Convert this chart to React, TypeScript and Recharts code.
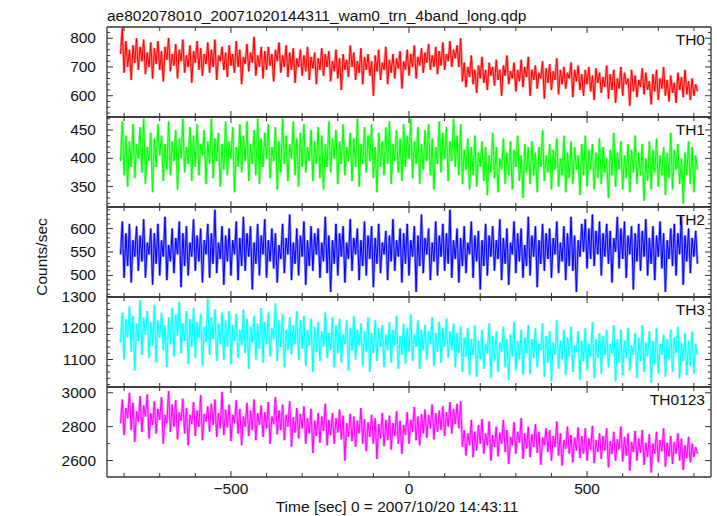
import React from "react";
import { LineChart, Line, XAxis, YAxis } from "recharts";

// ---- data (counts/sec, 5 s bins from -810 s to +810 s) ----
const time: number[] = Array.from({ length: 325 }, (_, i) => -810 + 5 * i);

const th0: number[] = [
  745, 835, 680, 790, 700, 760, 655, 775, 715, 800,
  690, 770, 720, 795, 675, 750, 700, 785, 660, 765,
  710, 790, 690, 755, 650, 770, 725, 800, 685, 745,
  705, 780, 660, 760, 720, 795, 680, 740, 700, 775,
  645, 755, 715, 790, 690, 765, 670, 745, 710, 785,
  680, 760, 700, 795, 655, 740, 720, 770, 690, 750,
  665, 775, 705, 745, 680, 790, 700, 760, 640, 735,
  710, 780, 685, 750, 715, 805, 670, 740, 700, 770,
  660, 755, 690, 770, 705, 745, 650, 760, 720, 785,
  680, 740, 700, 775, 665, 750, 690, 765, 645, 730,
  700, 760, 670, 740, 685, 770, 655, 735, 695, 750,
  640, 730, 690, 765, 670, 745, 700, 755, 650, 720,
  685, 760, 660, 730, 620, 745, 690, 725, 665, 775,
  700, 750, 655, 720, 680, 765, 640, 735, 690, 745,
  670, 720, 600, 740, 685, 760, 655, 715, 690, 770,
  640, 725, 680, 745, 660, 730, 695, 755, 625, 720,
  690, 760, 670, 745, 700, 775, 660, 735, 705, 765,
  680, 750, 715, 780, 690, 740, 700, 770, 675, 755,
  705, 785, 690, 745, 720, 790, 700, 760, 730, 775,
  700, 800, 650, 715, 630, 700, 665, 740, 640, 690,
  610, 705, 660, 735, 645, 690, 620, 715, 670, 700,
  635, 725, 655, 690, 600, 705, 670, 740, 640, 685,
  660, 715, 615, 690, 650, 725, 630, 700, 665, 735,
  600, 690, 655, 705, 625, 680, 660, 720, 590, 695,
  645, 710, 620, 685, 655, 730, 605, 690, 640, 700,
  625, 680, 660, 715, 595, 690, 650, 705, 620, 675,
  600, 690, 640, 700, 615, 670, 585, 695, 645, 680,
  610, 665, 630, 705, 590, 675, 620, 690, 575, 660,
  625, 700, 600, 680, 640, 660, 565, 690, 615, 670,
  595, 655, 630, 695, 605, 680, 620, 650, 570, 675,
  615, 690, 585, 660, 625, 700, 600, 655, 580, 670,
  610, 645, 575, 680, 620, 665, 595, 690, 605, 650,
  585, 660, 600, 640, 615,
];

const th1: number[] = [
  395, 465, 370, 440, 350, 430, 385, 460, 365, 425,
  400, 455, 375, 470, 355, 420, 395, 445, 340, 435,
  385, 460, 405, 440, 360, 425, 380, 465, 370, 430,
  395, 450, 345, 435, 400, 470, 375, 420, 390, 455,
  360, 440, 385, 460, 370, 425, 405, 450, 355, 430,
  390, 470, 365, 435, 395, 445, 350, 425, 380, 465,
  370, 430, 400, 455, 340, 420, 385, 460, 375, 440,
  395, 465, 360, 425, 390, 450, 370, 470, 355, 435,
  385, 445, 400, 460, 365, 420, 395, 455, 345, 430,
  375, 470, 390, 440, 360, 425, 400, 465, 370, 435,
  350, 445, 385, 460, 375, 420, 395, 450, 360, 430,
  390, 455, 365, 440, 345, 425, 385, 465, 375, 435,
  400, 450, 355, 430, 390, 460, 370, 420, 395, 445,
  360, 435, 385, 470, 350, 425, 390, 455, 375, 440,
  395, 460, 365, 420, 340, 445, 385, 430, 370, 455,
  390, 465, 355, 425, 395, 450, 375, 435, 360, 460,
  385, 440, 400, 470, 365, 430, 390, 455, 355, 425,
  380, 450, 395, 460, 370, 435, 345, 420, 390, 465,
  375, 445, 400, 455, 360, 430, 395, 470, 385, 440,
  370, 460, 355, 415, 380, 435, 345, 420, 370, 440,
  350, 410, 385, 430, 360, 420, 335, 405, 375, 445,
  365, 420, 340, 400, 380, 435, 355, 410, 370, 430,
  345, 415, 385, 440, 360, 405, 330, 425, 375, 420,
  355, 430, 370, 410, 340, 420, 385, 450, 360, 405,
  375, 425, 345, 415, 380, 435, 350, 400, 370, 440,
  340, 410, 365, 430, 355, 420, 380, 405, 335, 425,
  370, 440, 350, 415, 380, 425, 345, 410, 365, 435,
  355, 420, 375, 400, 330, 415, 370, 445, 350, 410,
  380, 430, 345, 405, 365, 425, 340, 415, 375, 440,
  355, 410, 370, 425, 325, 400, 360, 430, 345, 415,
  375, 435, 350, 405, 370, 420, 335, 410, 365, 445,
  345, 415, 380, 425, 355, 400, 320, 410, 370, 430,
  355, 420, 340, 405, 380,
];

const th2: number[] = [
  545, 615, 495, 590, 520, 610, 485, 575, 540, 605,
  510, 585, 530, 620, 495, 570, 545, 600, 480, 590,
  525, 610, 500, 575, 540, 625, 490, 565, 530, 600,
  505, 580, 545, 615, 475, 590, 520, 605, 500, 570,
  540, 620, 510, 585, 530, 600, 485, 575, 545, 610,
  495, 590, 525, 640, 505, 570, 535, 605, 480, 585,
  530, 600, 500, 575, 545, 615, 490, 580, 520, 625,
  510, 590, 540, 605, 470, 570, 525, 610, 500, 585,
  545, 620, 495, 575, 530, 600, 515, 590, 485, 565,
  535, 610, 505, 580, 545, 630, 490, 570, 525, 600,
  500, 585, 540, 615, 480, 575, 520, 605, 510, 590,
  545, 600, 495, 570, 530, 625, 505, 585, 465, 575,
  525, 610, 500, 590, 540, 605, 485, 570, 535, 620,
  510, 580, 545, 600, 490, 575, 520, 615, 500, 585,
  535, 605, 475, 580, 525, 610, 505, 570, 545, 595,
  490, 585, 530, 620, 510, 575, 540, 600, 485, 590,
  525, 610, 500, 575, 540, 605, 465, 585, 520, 630,
  505, 580, 545, 600, 490, 570, 530, 615, 500, 585,
  540, 610, 510, 590, 525, 640, 495, 575, 535, 600,
  485, 580, 520, 605, 505, 570, 545, 615, 495, 585,
  530, 595, 470, 575, 520, 610, 500, 585, 540, 605,
  510, 575, 535, 620, 490, 580, 525, 600, 480, 570,
  545, 615, 505, 590, 530, 600, 495, 565, 520, 625,
  500, 585, 540, 605, 475, 575, 525, 610, 510, 590,
  535, 600, 495, 580, 545, 615, 505, 570, 530, 605,
  490, 590, 520, 625, 510, 585, 465, 575, 540, 610,
  550, 620, 515, 600, 535, 630, 520, 595, 545, 615,
  500, 590, 540, 610, 525, 595, 485, 580, 550, 625,
  515, 600, 535, 615, 495, 585, 545, 605, 470, 590,
  530, 610, 510, 595, 540, 620, 500, 580, 525, 605,
  490, 585, 540, 615, 515, 590, 465, 575, 535, 600,
  520, 610, 500, 590, 545, 625, 480, 585, 530, 600,
  505, 580, 540, 595, 525,
];

const th3: number[] = [
  1155, 1250, 1100, 1230, 1170, 1270, 1125, 1240, 1065, 1215,
  1160, 1290, 1115, 1235, 1180, 1255, 1105, 1220, 1145, 1275,
  1090, 1225, 1170, 1250, 1130, 1210, 1075, 1235, 1150, 1265,
  1110, 1245, 1175, 1285, 1120, 1215, 1160, 1255, 1085, 1230,
  1140, 1265, 1105, 1220, 1170, 1245, 1080, 1205, 1155, 1295,
  1115, 1235, 1165, 1260, 1095, 1215, 1150, 1250, 1100, 1225,
  1140, 1255, 1085, 1210, 1160, 1245, 1105, 1195, 1145, 1260,
  1120, 1230, 1070, 1205, 1155, 1240, 1100, 1215, 1135, 1265,
  1090, 1220, 1150, 1250, 1110, 1200, 1165, 1280, 1095, 1225,
  1140, 1245, 1075, 1195, 1130, 1235, 1115, 1210, 1150, 1255,
  1100, 1225, 1135, 1240, 1080, 1195, 1145, 1230, 1060, 1205,
  1125, 1220, 1095, 1190, 1140, 1250, 1105, 1185, 1130, 1235,
  1075, 1210, 1120, 1230, 1090, 1180, 1150, 1225, 1065, 1200,
  1130, 1240, 1100, 1195, 1145, 1215, 1080, 1190, 1125, 1235,
  1060, 1185, 1120, 1225, 1095, 1200, 1140, 1210, 1075, 1180,
  1130, 1220, 1090, 1195, 1145, 1240, 1070, 1175, 1115, 1215,
  1085, 1200, 1125, 1245, 1095, 1180, 1140, 1225, 1070, 1195,
  1130, 1210, 1100, 1190, 1150, 1235, 1080, 1185, 1125, 1220,
  1090, 1200, 1140, 1230, 1105, 1190, 1130, 1215, 1075, 1185,
  1120, 1205, 1060, 1170, 1110, 1200, 1050, 1165, 1115, 1210,
  1045, 1160, 1100, 1195, 1070, 1150, 1120, 1215, 1040, 1175,
  1095, 1190, 1060, 1155, 1125, 1205, 1075, 1165, 1035, 1180,
  1110, 1220, 1065, 1160, 1100, 1195, 1050, 1170, 1120, 1210,
  1055, 1165, 1105, 1200, 1075, 1150, 1130, 1215, 1045, 1175,
  1090, 1190, 1030, 1155, 1115, 1225, 1070, 1160, 1100, 1195,
  1050, 1170, 1110, 1205, 1060, 1145, 1125, 1190, 1035, 1160,
  1095, 1200, 1065, 1150, 1110, 1220, 1040, 1165, 1105, 1185,
  1055, 1175, 1115, 1195, 1075, 1150, 1120, 1210, 1030, 1165,
  1090, 1195, 1050, 1160, 1105, 1200, 1065, 1145, 1115, 1185,
  1040, 1170, 1095, 1210, 1060, 1155, 1110, 1190, 1025, 1160,
  1085, 1200, 1055, 1150, 1115, 1180, 1045, 1165, 1100, 1195,
  1060, 1170, 1120, 1205, 1040, 1155, 1095, 1185, 1050, 1160,
  1080, 1190, 1055, 1150, 1115,
];

const th0123: number[] = [
  2820, 2960, 2750, 2910, 2850, 3000, 2780, 2940, 2710, 2890,
  2830, 2980, 2770, 2925, 2860, 2990, 2730, 2880, 2810, 2950,
  2760, 2905, 2840, 2975, 2700, 2870, 2820, 3010, 2770, 2930,
  2800, 2955, 2725, 2885, 2835, 2965, 2760, 2910, 2690, 2870,
  2815, 2945, 2745, 2895, 2800, 2985, 2720, 2875, 2830, 2920,
  2770, 2935, 2810, 2960, 2740, 2880, 2790, 3005, 2750, 2900,
  2795, 2930, 2715, 2870, 2820, 2955, 2760, 2905, 2690, 2860,
  2800, 2940, 2745, 2895, 2780, 2960, 2720, 2880, 2810, 2925,
  2740, 2885, 2790, 2945, 2700, 2860, 2815, 2975, 2755, 2895,
  2780, 2930, 2720, 2870, 2800, 2950, 2680, 2855, 2765, 2910,
  2730, 2875, 2790, 2920, 2700, 2850, 2760, 2905, 2645, 2835,
  2745, 2880, 2705, 2860, 2775, 2935, 2690, 2840, 2750, 2880,
  2700, 2850, 2765, 2900, 2725, 2865, 2600, 2820, 2740, 2875,
  2715, 2860, 2680, 2835, 2760, 2910, 2700, 2845, 2655, 2825,
  2740, 2870, 2700, 2850, 2610, 2815, 2730, 2880, 2685, 2840,
  2720, 2865, 2665, 2820, 2745, 2890, 2700, 2835, 2640, 2810,
  2750, 2885, 2700, 2840, 2770, 2915, 2720, 2860, 2690, 2875,
  2760, 2900, 2735, 2870, 2790, 2930, 2725, 2880, 2770, 2895,
  2780, 2920, 2745, 2885, 2800, 2945, 2760, 2905, 2815, 2935,
  2790, 2950, 2680, 2780, 2630, 2760, 2690, 2840, 2620, 2770,
  2660, 2810, 2700, 2845, 2640, 2760, 2690, 2830, 2600, 2750,
  2680, 2800, 2625, 2765, 2700, 2840, 2650, 2780, 2580, 2740,
  2690, 2825, 2640, 2770, 2705, 2850, 2610, 2760, 2670, 2800,
  2620, 2755, 2680, 2815, 2645, 2770, 2575, 2735, 2690, 2790,
  2650, 2780, 2600, 2745, 2680, 2830, 2630, 2760, 2570, 2720,
  2670, 2800, 2640, 2750, 2590, 2735, 2660, 2795, 2615, 2745,
  2640, 2790, 2600, 2730, 2665, 2805, 2585, 2720, 2650, 2760,
  2610, 2745, 2660, 2790, 2560, 2715, 2640, 2770, 2600, 2725,
  2665, 2800, 2595, 2740, 2630, 2760, 2540, 2710, 2650, 2775,
  2600, 2730, 2645, 2780, 2575, 2705, 2620, 2755, 2530, 2700,
  2640, 2770, 2590, 2720, 2655, 2790, 2565, 2705, 2625, 2745,
  2580, 2710, 2640, 2760, 2600, 2730, 2545, 2690, 2615, 2740,
  2590, 2700, 2620, 2680, 2640,
];

const bandLabels: string[] = ["TH0", "TH1", "TH2", "TH3", "TH0123"];
const bandColors: string[] = ["#ff0000", "#00ff00", "#0000ff", "#00ffff", "#ff00ff"];

const xMajorTicks: number[] = [-500, 0, 500];
const xAllTicks: number[] = [-800, -700, -600, -500, -400, -300, -200, -100, 0, 100, 200, 300, 400, 500, 600, 700, 800];

const yMajorTicks: number[][] = [
  [600, 700, 800],
  [350, 400, 450],
  [500, 550, 600],
  [1100, 1200, 1300],
  [2600, 2800, 3000],
];
const yAllTicks: number[][] = [
  [540, 560, 580, 600, 620, 640, 660, 680, 700, 720, 740, 760, 780, 800, 820],
  [320, 330, 340, 350, 360, 370, 380, 390, 400, 410, 420, 430, 440, 450, 460, 470],
  [460, 470, 480, 490, 500, 510, 520, 530, 540, 550, 560, 570, 580, 590, 600, 610, 620, 630, 640],
  [1020, 1040, 1060, 1080, 1100, 1120, 1140, 1160, 1180, 1200, 1220, 1240, 1260, 1280, 1300],
  [2600, 2700, 2800, 2900, 3000],
];
const yDomains: [number, number][] = [
  [526, 839],
  [314, 473],
  [454, 646],
  [1012, 1300],
  [2503, 3034],
];
const xDomain: [number, number] = [-848, 848];

const title = "ae802078010_20071020144311_wam0_trn_4band_long.qdp";
const xTitle = "Time [sec] 0 = 2007/10/20 14:43:11";
const yTitle = "Counts/sec";

const seriesList: number[][] = [th0, th1, th2, th3, th0123];
const keys = ["th0", "th1", "th2", "th3", "th0123"];

const rows = time.map((t, i) => ({
  t,
  th0: th0[i],
  th1: th1[i],
  th2: th2[i],
  th3: th3[i],
  th0123: th0123[i],
}));

// ---- layout ----
const W = 717;
const H = 516;
const PL = 107;
const PR = 711;
const panelTops = [27, 117, 207, 297, 387];
const PANEL_H = 90;
const FONT = "'Liberation Sans', Arial, Helvetica, sans-serif";
const AX = "#333";
const FS = 15.5;

function Panel({ idx }: { idx: number }) {
  const top = panelTops[idx];
  const bottom = top + PANEL_H;
  const majors = yMajorTicks[idx];
  const isLast = idx === panelTops.length - 1;

  const leftTick = (props: any) => {
    const { y, payload } = props;
    const major = majors.includes(payload.value);
    return (
      <g>
        <line x1={PL} x2={PL + (major ? 6 : 3)} y1={y} y2={y} stroke={AX} strokeWidth={1} />
        {major && (
          <text x={96} y={y + 5} textAnchor="end" fontFamily={FONT} fontSize={FS} fill="#111">
            {payload.value}
          </text>
        )}
      </g>
    );
  };
  const rightTick = (props: any) => {
    const { y, payload } = props;
    const major = majors.includes(payload.value);
    return <line x1={PR} x2={PR - (major ? 6 : 3)} y1={y} y2={y} stroke={AX} strokeWidth={1} />;
  };
  const bottomTick = (props: any) => {
    const { x, payload } = props;
    const major = xMajorTicks.includes(payload.value);
    return (
      <g>
        <line x1={x} x2={x} y1={bottom} y2={bottom - (major ? 6 : 4)} stroke={AX} strokeWidth={1} />
        {isLast && major && (
          <text x={x} y={bottom + 17} textAnchor="middle" fontFamily={FONT} fontSize={FS} fill="#111">
            {payload.value < 0 ? "\u2212" + Math.abs(payload.value) : payload.value}
          </text>
        )}
      </g>
    );
  };
  const topTick = (props: any) => {
    const { x, payload } = props;
    const major = xMajorTicks.includes(payload.value);
    return <line x1={x} x2={x} y1={top} y2={top + (major ? 6 : 4)} stroke={AX} strokeWidth={1} />;
  };

  return (
    <div style={{ position: "absolute", left: 0, top: 0, width: W, height: H }}>
      <LineChart
        width={W}
        height={H}
        data={rows}
        margin={{ top: top - 1, bottom: H - bottom - 1, left: PL - 60, right: W - PR - 1 }}
      >
        <XAxis
          xAxisId="b"
          dataKey="t"
          type="number"
          domain={xDomain}
          allowDataOverflow
          ticks={xAllTicks}
          interval={0}
          height={1}
          tickLine={false}
          axisLine={{ stroke: AX, strokeWidth: 1.3 }}
          tick={bottomTick}
        />
        <XAxis
          xAxisId="t"
          orientation="top"
          dataKey="t"
          type="number"
          domain={xDomain}
          allowDataOverflow
          ticks={xAllTicks}
          interval={0}
          height={1}
          tickLine={false}
          axisLine={{ stroke: AX, strokeWidth: 1.3 }}
          tick={topTick}
        />
        <YAxis
          yAxisId="l"
          type="number"
          domain={yDomains[idx]}
          allowDataOverflow
          ticks={yAllTicks[idx]}
          interval={0}
          width={60}
          tickLine={false}
          axisLine={{ stroke: AX, strokeWidth: 1.3 }}
          tick={leftTick}
        />
        <YAxis
          yAxisId="r"
          orientation="right"
          type="number"
          domain={yDomains[idx]}
          allowDataOverflow
          ticks={yAllTicks[idx]}
          interval={0}
          width={1}
          tickLine={false}
          axisLine={{ stroke: AX, strokeWidth: 1.3 }}
          tick={rightTick}
        />
        <Line
          xAxisId="b"
          yAxisId="l"
          type="linear"
          dataKey={keys[idx]}
          stroke={bandColors[idx]}
          strokeOpacity={0.45}
          strokeWidth={2.6}
          dot={false}
          isAnimationActive={false}
        />
        <Line
          xAxisId="b"
          yAxisId="l"
          type="linear"
          dataKey={keys[idx]}
          stroke={bandColors[idx]}
          strokeWidth={1}
          dot={false}
          isAnimationActive={false}
        />
      </LineChart>
    </div>
  );
}

export default function App() {
  return (
    <div style={{ position: "absolute", left: 0, top: 0, width: W, height: H, background: "#fff" }}>
      {seriesList.map((_, i) => (
        <Panel key={keys[i]} idx={i} />
      ))}
      <svg width={W} height={H} style={{ position: "absolute", left: 0, top: 0, pointerEvents: "none" }}>
        <text x={107} y={21} fontFamily={FONT} fontSize={FS} fill="#111">
          {title}
        </text>
        {bandLabels.map((lab, i) => (
          <text key={lab} x={705} y={panelTops[i] + 18} textAnchor="end" fontFamily={FONT} fontSize={FS} fill="#111">
            {lab}
          </text>
        ))}
        <text
          x={47}
          y={257}
          textAnchor="middle"
          fontFamily={FONT}
          fontSize={FS}
          fill="#111"
          transform="rotate(-90, 47, 257)"
        >
          {yTitle}
        </text>
        <text x={397} y={512} textAnchor="middle" fontFamily={FONT} fontSize={FS} fill="#111">
          {xTitle}
        </text>
      </svg>
    </div>
  );
}
